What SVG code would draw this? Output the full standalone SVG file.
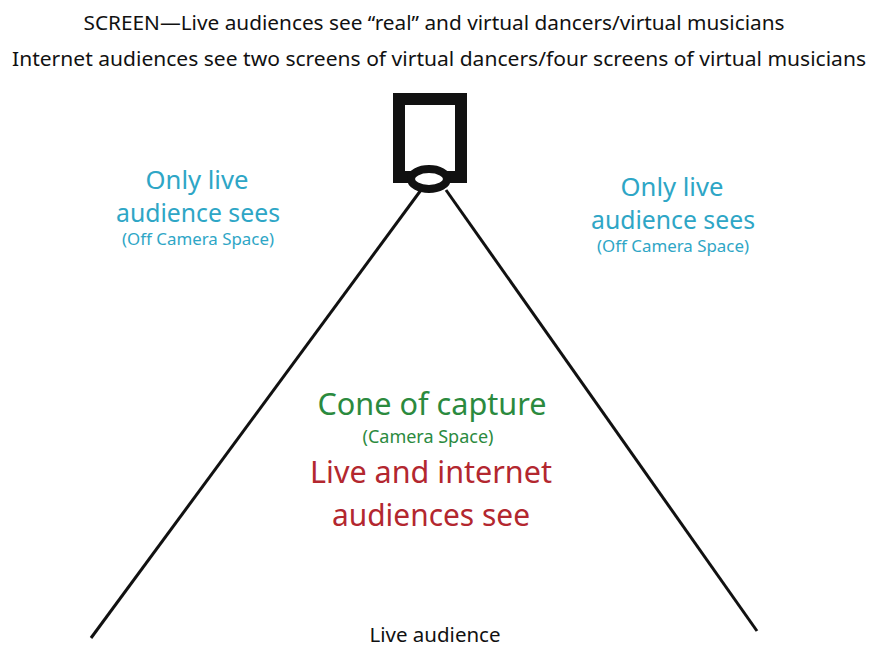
<svg xmlns="http://www.w3.org/2000/svg" width="869" height="647" viewBox="0 0 869 647">
<style>
.t{font-family:"Noto Sans","Open Sans",sans-serif;text-anchor:middle}
.title{font-size:20px;fill:#111}
.cyan{fill:#2ea6c6}
.green{fill:#2b8a3e}
.red{fill:#b3272f}
.line{stroke:#111;stroke-width:3;fill:none}
</style>
<rect width="869" height="647" fill="#fff"/>
<g id="title">
<text class="t title" x="434" y="30" textLength="701" lengthAdjust="spacingAndGlyphs">SCREEN—Live audiences see “real” and virtual dancers/virtual musicians</text>
<text class="t title" x="439" y="66" textLength="854" lengthAdjust="spacingAndGlyphs">Internet audiences see two screens of virtual dancers/four screens of virtual musicians</text>
</g>
<g id="connectors">
<line class="line" x1="421" y1="190" x2="91" y2="638"/>
<line class="line" x1="446" y1="190" x2="757" y2="631"/>
</g>
<g id="camera">
<rect x="399" y="99" width="62" height="78" fill="#fff" stroke="#111" stroke-width="12"/>
<ellipse cx="429" cy="179" rx="18" ry="10" fill="#fff" stroke="#111" stroke-width="8"/>
</g>
<g id="left-offcamera">
<text class="t cyan" x="197" y="189" font-size="25" textLength="103" lengthAdjust="spacingAndGlyphs">Only live</text>
<text class="t cyan" x="198" y="222" font-size="25" textLength="164" lengthAdjust="spacingAndGlyphs">audience sees</text>
<text class="t cyan" x="198" y="245" font-size="16" textLength="152" lengthAdjust="spacingAndGlyphs">(Off Camera Space)</text>
</g>
<g id="right-offcamera">
<text class="t cyan" x="672" y="196" font-size="25" textLength="103" lengthAdjust="spacingAndGlyphs">Only live</text>
<text class="t cyan" x="673" y="229" font-size="25" textLength="164" lengthAdjust="spacingAndGlyphs">audience sees</text>
<text class="t cyan" x="673" y="252" font-size="16" textLength="152" lengthAdjust="spacingAndGlyphs">(Off Camera Space)</text>
</g>
<g id="cone">
<text class="t green" x="432" y="415" font-size="31" textLength="229" lengthAdjust="spacingAndGlyphs">Cone of capture</text>
<text class="t green" x="428" y="443" font-size="18" textLength="131" lengthAdjust="spacingAndGlyphs">(Camera Space)</text>
<text class="t red" x="431" y="483" font-size="31" textLength="242" lengthAdjust="spacingAndGlyphs">Live and internet</text>
<text class="t red" x="431" y="526" font-size="31" textLength="198" lengthAdjust="spacingAndGlyphs">audiences see</text>
</g>
<g id="live-audience">
<text class="t" x="435" y="642" font-size="19" fill="#111" textLength="131" lengthAdjust="spacingAndGlyphs">Live audience</text>
</g>
</svg>
